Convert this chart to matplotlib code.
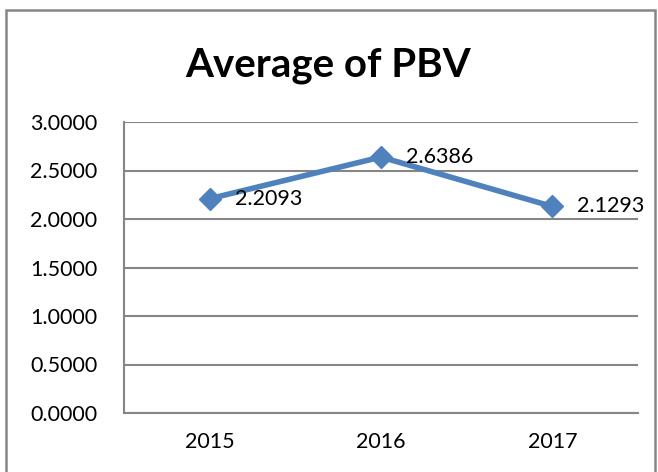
import matplotlib
matplotlib.use("Agg")
import matplotlib.pyplot as plt
from matplotlib.patches import Rectangle

years = ["2015", "2016", "2017"]
pbv = [2.2093, 2.6386, 2.1293]
yticks = [0.0, 0.5, 1.0, 1.5, 2.0, 2.5, 3.0]
title = "Average of PBV"

plt.rcParams['font.family'] = ['Lato', 'DejaVu Sans']
W, H = 658, 472
fig = plt.figure(figsize=(W/100, H/100), dpi=100)

# outer chart frame
fig.patches.append(Rectangle((6/W, -0.05), (655-6)/W, (H-10)/H + 0.05,
                             transform=fig.transFigure, fill=False,
                             edgecolor='#868686', linewidth=1.8))

ax = fig.add_axes([124/W, 1-413/H, (638-124)/W, (413-122)/H])
x = list(range(len(years)))
ax.plot(x, pbv, color='#4F81BD', linewidth=4, marker='D', markersize=11,
        markeredgecolor='#4F81BD', zorder=3, clip_on=False)
for xi, v in zip(x, pbv):
    ax.annotate(f"{v:.4f}", (xi, v), xytext=(18, 0), textcoords='offset points',
                ha='left', va='center', fontsize=15.5, color='black')

ax.set_xlim(-0.5, 2.5)
ax.set_ylim(0, 3.0)
ax.set_yticks(yticks)
ax.set_yticklabels([f"{t:.4f}" for t in yticks])
ax.set_xticks(x)
ax.set_xticklabels(years)
ax.grid(axis='y', color='#868686', linewidth=1.5)
ax.set_axisbelow(True)
for s in ['top', 'right']:
    ax.spines[s].set_visible(False)
for s in ['left', 'bottom']:
    ax.spines[s].set_color('#868686')
    ax.spines[s].set_linewidth(1.5)
ax.tick_params(axis='both', length=0, labelsize=15.5)
ax.tick_params(axis='y', pad=19)
ax.tick_params(axis='x', pad=14)

fig.text(328/W, 1-65/H, title, ha='center', va='center', fontsize=29,
         fontweight='bold')

fig.savefig("out.png", dpi=100)
